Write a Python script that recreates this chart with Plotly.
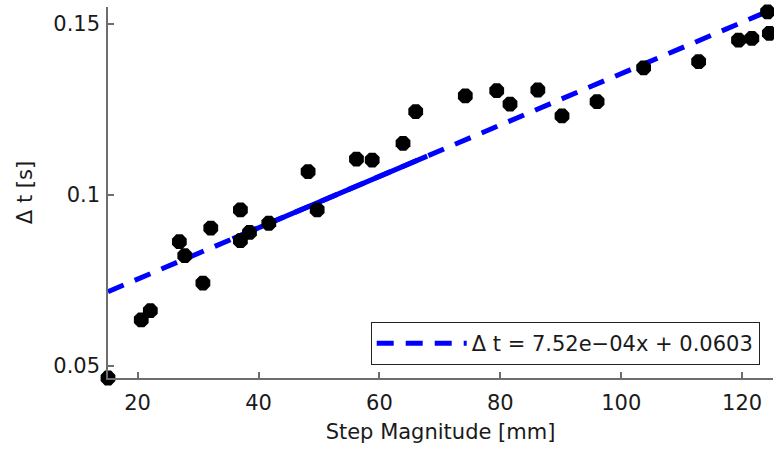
import plotly.graph_objects as go

# Measured step magnitudes [mm] and corresponding time deltas [s]
step_mm = [15.1, 20.6, 22.1, 26.9, 27.8, 30.8, 32.1, 37.0, 37.0, 38.5, 41.7,
           48.2, 49.7, 56.2, 58.8, 63.9, 66.0, 74.2, 79.4, 81.6, 86.2, 90.2,
           96.0, 103.7, 112.8, 119.4, 121.6, 124.2, 124.5]
delta_t = [0.0464, 0.0634, 0.0661, 0.0863, 0.0822, 0.0742, 0.0903, 0.0956, 0.0866, 0.0890, 0.0917,
           0.1068, 0.0956, 0.1105, 0.1102, 0.1151, 0.1244, 0.1290, 0.1305, 0.1266, 0.1307, 0.1231,
           0.1273, 0.1372, 0.1390, 0.1453, 0.1458, 0.1536, 0.1473]

# Linear fit coefficients
slope = 7.52e-04
intercept = 0.0603
fit_x = [15.1, 125.1]
solid_x = [35.7, 67.9]

x_ticks = [20, 40, 60, 80, 100, 120]
y_ticks = [0.05, 0.1, 0.15]
y_tick_text = ["0.05", "0.1", "0.15"]

FONT = "DejaVu Sans"
AXIS_GRAY = "#6e6e6e"

fig = go.Figure()

fig.add_trace(go.Scatter(
    x=fit_x, y=[slope * v + intercept for v in fit_x],
    mode="lines", line=dict(color="#0000ff", width=5, dash="17px,12px"),
    name="\u0394 t = 7.52e\u221204x + 0.0603", showlegend=True,
))
fig.add_trace(go.Scatter(
    x=solid_x, y=[slope * v + intercept for v in solid_x],
    mode="lines", line=dict(color="#0000ff", width=5),
    showlegend=False, hoverinfo="skip",
))
fig.add_trace(go.Scatter(
    x=step_mm, y=delta_t, mode="markers",
    marker=dict(color="black", size=16, symbol="octagon", line=dict(width=0)),
    showlegend=False, cliponaxis=False,
))

fig.update_layout(
    width=774, height=454,
    margin=dict(l=108, r=1, t=7, b=76),
    paper_bgcolor="white", plot_bgcolor="white",
    font=dict(family=FONT, size=21, color="#1a1a1a"),
    legend=dict(
        x=0.980, y=0.035, xanchor="right", yanchor="bottom",
        bgcolor="white", bordercolor="#222", borderwidth=1,
        font=dict(family=FONT, size=21, color="#1a1a1a"),
        itemwidth=90, tracegroupgap=0,
    ),
)

fig.update_xaxes(
    range=[15.1, 125.1], tickvals=x_ticks,
    showline=True, linecolor=AXIS_GRAY, linewidth=1.5,
    ticks="inside", ticklen=6, tickcolor=AXIS_GRAY, tickwidth=1.5,
    ticklabelstandoff=5,
    showgrid=False, zeroline=False, mirror=False,
    title=dict(text="Step Magnitude [mm]", font=dict(family=FONT, size=21), standoff=10),
)
fig.update_yaxes(
    range=[0.0464, 0.155], tickvals=y_ticks, ticktext=y_tick_text,
    showline=True, linecolor=AXIS_GRAY, linewidth=1.5,
    ticks="inside", ticklen=6, tickcolor=AXIS_GRAY, tickwidth=1.5,
    ticklabelstandoff=2,
    showgrid=False, zeroline=False, mirror=False,
    title=dict(text="\u0394 t [s]", font=dict(family=FONT, size=21), standoff=15),
)

fig.write_html("out.html")
